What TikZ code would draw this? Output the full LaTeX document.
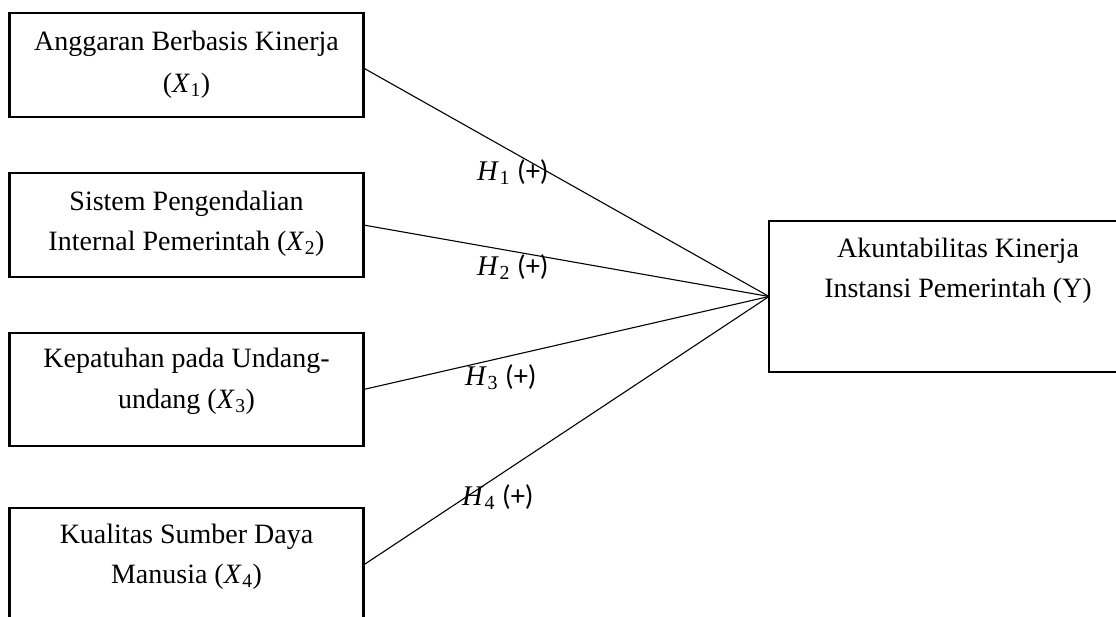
\documentclass[tikz,border=0pt]{standalone}
\usepackage{fontspec}
\setmainfont{Liberation Serif}
\newfontfamily\lblfont{Carlito}
\newcommand{\myvar}[2]{\textit{#1}\kern0.5pt\textsubscript{#2}}
\begin{document}
\begin{tikzpicture}[x=1pt,y=-1pt,
  box/.style={draw, line width=2.2pt, inner sep=0pt, outer sep=0pt},
  txt/.style={anchor=base, inner sep=0pt, font=\fontsize{28}{30}\selectfont},
  lab/.style={anchor=base west, inner sep=0pt, font=\fontsize{28.5}{30}\selectfont},
  conn/.style={line width=1.1pt}]
\useasboundingbox (0,0) rectangle (1116,616);
\clip (0,0) rectangle (1116,616);
% boxes
\node[box, minimum width=354pt, minimum height=104pt] (b1) at (186.5,65) {};
\node[box, minimum width=354pt, minimum height=104pt] (b2) at (186.5,225) {};
\node[box, minimum width=354pt, minimum height=113pt] (b3) at (186.5,389.5) {};
\node[box, minimum width=354pt, minimum height=114pt] (b4) at (186.5,565) {};
\node[box, minimum width=379pt, minimum height=151pt] (y) at (958.5,296.5) {};
% box texts
\node[txt] (t1a) at (186.5,50) {Anggaran Berbasis Kinerja};
\node[txt] (t1b) at (186.5,92) {(\myvar{X}{1})};
\node[txt] (t2a) at (186.5,210) {Sistem Pengendalian};
\node[txt] (t2b) at (186.5,250) {Internal Pemerintah (\myvar{X}{2})};
\node[txt] (t3a) at (186.5,367) {Kepatuhan pada Undang-};
\node[txt] (t3b) at (186.5,408) {undang (\myvar{X}{3})};
\node[txt] (t4a) at (186.5,543) {Kualitas Sumber Daya};
\node[txt] (t4b) at (186.5,583) {Manusia (\myvar{X}{4})};
\node[txt] (tya) at (958,257) {Akuntabilitas Kinerja};
\node[txt] (tyb) at (958,297) {Instansi Pemerintah (Y)};
% connectors
\draw[conn] ([yshift=-3pt]b1.east) -- (y.west);
\draw[conn] (b2.east) -- (y.west);
\draw[conn] (b3.east) -- (y.west);
\draw[conn] (b4.east) -- (y.west);
% labels
\node[lab] (h1) at (477,180) {\myvar{H}{1} {\lblfont(+)}};
\node[lab] (h2) at (477,275) {\myvar{H}{2} {\lblfont(+)}};
\node[lab] (h3) at (465,385) {\myvar{H}{3} {\lblfont(+)}};
\node[lab] (h4) at (462,505) {\myvar{H}{4} {\lblfont(+)}};
\end{tikzpicture}
\end{document}
